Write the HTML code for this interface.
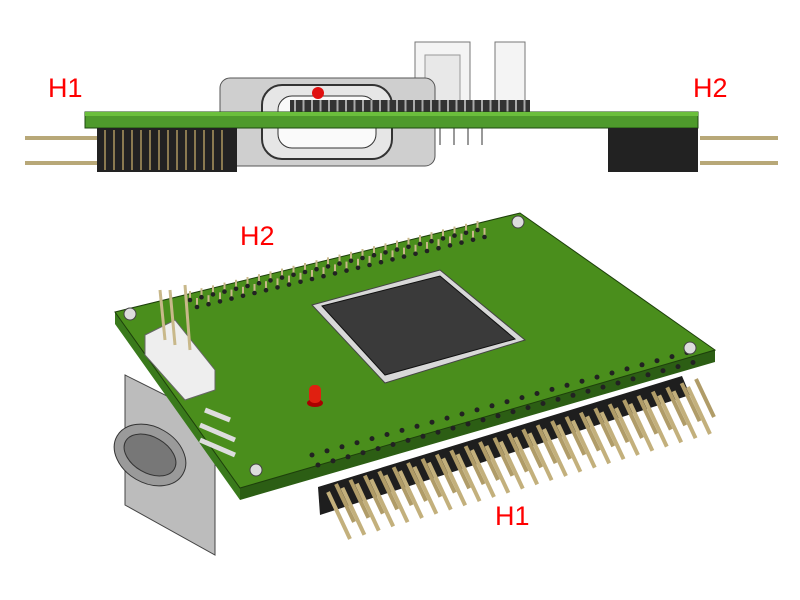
<!DOCTYPE html>
<html><head><meta charset="utf-8"><style>
html,body{margin:0;padding:0;background:#fff;width:800px;height:600px;overflow:hidden}
svg{display:block}
text{font-family:"Liberation Sans",sans-serif;fill:#f00;font-size:27px}
</style></head><body>
<svg id="s" width="800" height="600" viewBox="0 0 800 600">
<!-- TOP VIEW -->
<rect x="415" y="42" width="55" height="70" fill="#f4f4f4" stroke="#777"/>
<rect x="425" y="55" width="35" height="57" fill="#e8e8e8" stroke="#999"/>
<rect x="495" y="42" width="30" height="70" fill="#f4f4f4" stroke="#777"/>
<rect x="220" y="78" width="215" height="88" rx="10" fill="#cfcfcf" stroke="#555"/>
<rect x="262" y="85" width="130" height="74" rx="20" fill="#e6e6e6" stroke="#333" stroke-width="2"/>
<rect x="278" y="96" width="98" height="52" rx="14" fill="#fafafa" stroke="#333"/>
<circle cx="318" cy="93" r="6" fill="#e01010"/>
<rect x="290" y="100" width="240" height="12" fill="#333"/>
<g id="tp"></g>
<rect x="85" y="112" width="613" height="16" fill="#4e9a2c" stroke="#1f4a10"/>
<rect x="85" y="112" width="613" height="4" fill="#6bbf3c"/>
<g stroke="#b8a878" stroke-width="4">
<line x1="25" y1="138" x2="100" y2="138"/><line x1="25" y1="163" x2="100" y2="163"/>
<line x1="700" y1="138" x2="778" y2="138"/><line x1="700" y1="163" x2="778" y2="163"/>
</g>
<rect x="97" y="128" width="140" height="44" fill="#222"/>
<rect x="608" y="128" width="90" height="44" fill="#222"/>
<g id="hs"></g>
<text x="48" y="97">H1</text>
<text x="693" y="97">H2</text>

<!-- ISO VIEW -->
<polygon points="125,375 215,420 215,555 125,505" fill="#bcbcbc" stroke="#444"/>
<ellipse cx="150" cy="455" rx="38" ry="28" fill="#9a9a9a" stroke="#333" transform="rotate(30 150 455)"/>
<ellipse cx="150" cy="455" rx="28" ry="18" fill="#777" stroke="#333" transform="rotate(30 150 455)"/>
<polygon points="115,312 520,213 715,350 240,488 240,500 715,362 715,350" fill="#2c5e14"/>
<polygon points="115,312 240,488 240,500 115,324" fill="#3a7a1c"/>
<polygon points="115,312 520,213 715,350 240,488" fill="#4a8e1c" stroke="#1d3f0b"/>
<g id="holes"></g>
<circle cx="130" cy="314" r="6" fill="#ddd" stroke="#444"/>
<circle cx="518" cy="222" r="6" fill="#ddd" stroke="#444"/>
<circle cx="690" cy="348" r="6" fill="#ddd" stroke="#444"/>
<circle cx="256" cy="470" r="6" fill="#ddd" stroke="#444"/>
<polygon points="312,305 440,270 525,340 385,383" fill="#d8d8d8" stroke="#444"/>
<polygon points="322,306 440,276 515,339 385,375" fill="#3a3a3a" stroke="#111"/>
<polygon points="145,335 175,320 215,370 215,390 185,400 145,355" fill="#eeeeee" stroke="#666"/>
<g stroke="#c8b88a" stroke-width="3"><line x1="160" y1="290" x2="165" y2="340"/><line x1="170" y1="290" x2="175" y2="345"/><line x1="185" y1="285" x2="190" y2="350"/></g>
<g stroke="#ddd" stroke-width="5"><line x1="200" y1="425" x2="235" y2="440"/><line x1="200" y1="440" x2="235" y2="455"/><line x1="205" y1="410" x2="230" y2="420"/></g>
<ellipse cx="315" cy="403" rx="8" ry="4" fill="#a00"/>
<rect x="309" y="385" width="12" height="18" rx="5" fill="#e02010"/>
<polygon points="318,487 682,376 690,395 320,515" fill="#1e1e1e"/>
<g id="pins"></g>
<text x="240" y="245">H2</text>
<text x="495" y="525">H1</text>
</svg>
<script>
var ns="http://www.w3.org/2000/svg";
function el(p,t,a){var e=document.createElementNS(ns,t);for(var k in a)e.setAttribute(k,a[k]);document.getElementById(p).appendChild(e);}
for(var i=0;i<26;i++){var bx=328+i*14.4,by=492-i*4.2;
el("pins","line",{x1:bx+8,y1:by-8,x2:bx+26,y2:by+30,stroke:"#b09c68","stroke-width":4});
el("pins","line",{x1:bx,y1:by,x2:bx+22,y2:by+47,stroke:"#c3b07c","stroke-width":4});}
for(var i=0;i<26;i++){el("holes","circle",{cx:312+i*15,cy:455-i*4.1,r:2.5,fill:"#222"});el("holes","circle",{cx:318+i*15,cy:465-i*4.1,r:2.5,fill:"#222"});
var hx=190+i*11.5,hy=300-i*2.8;
el("holes","line",{x1:hx,y1:hy,x2:hx,y2:hy-9,stroke:"#c8b88a","stroke-width":2});
el("holes","line",{x1:hx+7,y1:hy+7,x2:hx+7,y2:hy-2,stroke:"#c8b88a","stroke-width":2});
el("holes","circle",{cx:hx,cy:hy,r:2.3,fill:"#222"});el("holes","circle",{cx:hx+7,cy:hy+7,r:2.3,fill:"#222"});}
for(var i=0;i<14;i++){el("hs","line",{x1:105+i*9,y1:130,x2:105+i*9,y2:170,stroke:"#8a7a50","stroke-width":2});}
for(var i=0;i<28;i++){el("tp","line",{x1:295+i*8.5,y1:100,x2:295+i*8.5,y2:112,stroke:"#aaa","stroke-width":2});}
for(var i=0;i<4;i++){el("tp","line",{x1:440+i*14,y1:128,x2:440+i*14,y2:145,stroke:"#999","stroke-width":2});}
</script>
</body></html>
